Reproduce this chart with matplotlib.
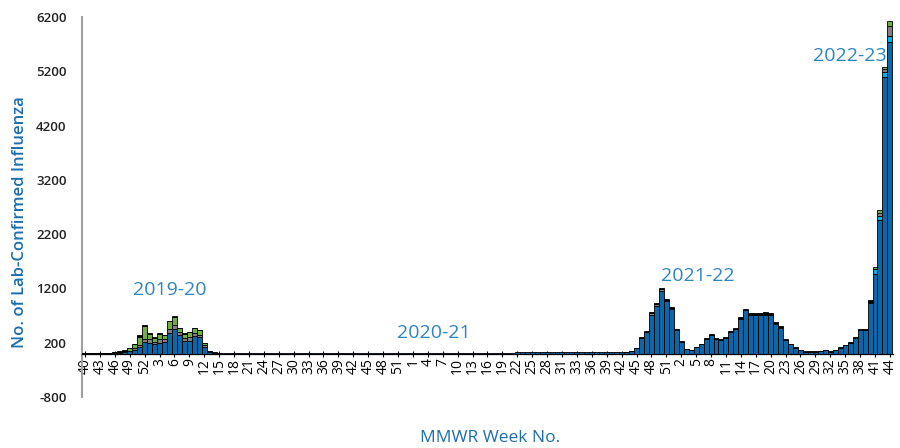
import numpy as np
import matplotlib
matplotlib.use('Agg')
import matplotlib.pyplot as plt

plt.rcParams['font.family'] = ['Open Sans', 'DejaVu Sans']
plt.rcParams['axes.unicode_minus'] = False

# ---- data: 163 weekly bars, 2019 wk40 ... 2022 wk44 ----
tick_labels = ['40', '43', '46', '49', '52', '3', '6', '9', '12', '15', '18', '21', '24', '27', '30',
               '33', '36', '39', '42', '45', '48', '51',
               '1', '4', '7', '10', '13', '16', '19', '22', '25', '28', '31', '33', '36', '39', '42',
               '45', '48', '51',
               '2', '5', '8', '11', '14', '17', '20', '23', '26', '29', '32', '35', '38', '41', '44']

season_labels = ['2019-20', '2020-21', '2021-22', '2022-23']

dark_blue = (
    # 2019 wk40-52
    [5, 5, 6, 7, 8, 10, 12, 15, 25, 40, 75, 120, 215] +
    # 2020 wk1-53
    [200, 170, 200, 210, 380, 450, 340, 230, 230, 320, 300, 130, 30, 12,
     10, 6, 8, 5, 4, 5, 3, 4, 3, 5, 3, 4, 3, 5, 4, 3, 4, 5, 3, 6,
     4, 5, 8, 6, 5, 10, 12, 10, 12, 14, 12, 10, 12, 14, 12, 10, 12, 14, 12] +
    # 2021
    [14, 12, 16, 14, 12, 18, 15, 14, 12, 16, 18, 14, 12, 15, 20, 16, 14, 18, 16, 20, 18, 22,
     30, 28, 32, 35, 30, 28, 34, 36, 30, 32, 35, 38, 30, 28, 32, 34, 30, 28, 30, 32, 33,
     33, 50, 95, 285, 395, 720, 880, 1150, 965, 815] +
    # 2022 wk1-44
    [435, 212, 78, 66, 114, 172, 272, 348, 272, 254, 290, 390, 450, 640, 795, 720, 720, 720, 710, 705,
     545, 472, 255, 172, 108, 67, 38, 38, 38, 50, 62, 38, 68, 108, 155, 202, 285, 430, 430, 925,
     1470, 2460, 5095, 5750]
)

light_blue = (
    [0, 0, 0, 0, 0, 0, 0, 0, 0, 0, 0, 0, 0] +
    [0, 0, 0, 0, 0, 0, 0, 0, 0, 0, 0, 0, 0, 0, 0, 0, 0, 0, 0, 0, 0, 0, 0, 0, 0, 0, 0,
     0, 0, 0, 0, 0, 0, 0, 0, 0, 0, 0, 0, 0, 0, 0, 0, 0, 0, 0, 0, 0, 0, 0, 0, 0, 0] +
    [0, 0, 0, 0, 0, 0, 0, 0, 0, 0, 0, 0, 0, 0, 0, 0, 0, 0, 0, 0, 0, 0, 0, 0, 0, 0, 0,
     0, 0, 0, 0, 0, 0, 0, 0, 0, 0, 0, 0, 0, 0, 0, 0, 0, 0, 0, 0, 0, 0, 0, 0, 0, 0] +
    [0, 0, 0, 0, 0, 0, 0, 0, 0, 0, 0, 0, 0, 0, 0, 0, 0, 0, 0, 0,
     0, 0, 0, 0, 0, 0, 0, 0, 0, 0, 0, 0, 0, 0, 0, 0, 0, 0, 0, 0,
     80, 80, 98, 110]
)

gray = (
    [0, 0, 0, 0, 0, 0, 3, 5, 10, 15, 25, 40, 60] +
    [60, 50, 60, 50, 70, 80, 50, 60, 80, 60, 50, 20, 5, 3,
     0, 0, 0, 0, 0, 0, 0, 0, 0, 0, 0, 0, 0, 0, 0, 0, 0, 0, 0, 0,
     0, 0, 0, 0, 0, 0, 0, 0, 0, 0, 0, 0, 0, 0, 0, 0, 0, 0, 0] +
    [0, 0, 0, 0, 0, 0, 0, 0, 0, 0, 0, 0, 0, 0, 0, 0, 0, 0, 0, 0, 0, 0, 0, 0,
     0, 0, 0, 0, 0, 0, 0, 0, 0, 0, 0, 0, 0, 0, 0, 0, 0, 0, 0, 0, 0, 0, 0, 0,
     21, 27, 33, 26, 0] +
    [0, 0, 0, 0, 0, 0, 0, 0, 0, 0, 0, 0, 0, 0, 0, 0, 0, 0, 0, 0,
     0, 0, 0, 0, 0, 0, 0, 0, 0, 0, 0, 0, 0, 0, 0, 0, 0, 0, 0, 0,
     10, 55, 55, 185]
)

green = (
    [3, 3, 4, 4, 5, 7, 7, 15, 20, 45, 70, 150, 240] +
    [110, 70, 95, 80, 150, 150, 75, 80, 80, 85, 80, 40, 15, 5,
     0, 0, 0, 0, 0, 0, 0, 0, 0, 0, 0, 0, 0, 0, 0, 0, 0, 0, 0, 0,
     0, 0, 0, 0, 0, 0, 0, 0, 0, 0, 0, 0, 0, 0, 0, 0, 0, 0, 0] +
    [0, 0, 0, 0, 0, 0, 0, 0, 0, 0, 0, 0, 0, 0, 0, 0, 0, 0, 0, 0, 0, 0, 0, 0, 0, 0,
     0, 0, 0, 0, 0, 0, 0, 0, 0, 0, 0, 0, 0, 0, 0, 0, 0, 0, 0, 0, 0, 0, 0, 0, 0, 0,
     25] +
    [0, 0, 0, 0, 0, 0, 0, 0, 0, 0, 0, 0, 0, 0, 0, 0, 0, 0,
     15, 15, 15, 15,
     0, 0, 0, 0, 0, 0, 0, 0, 0, 0, 0, 0, 0, 0, 0,
     8, 8, 20, 29, 42, 42, 75]
)

black = (
    [2, 2, 2, 3, 3, 3, 3, 5, 5, 5, 10, 40, 20] +
    [10, 10, 25, 10, 8, 7, 8, 10, 10, 8, 10, 6, 5, 5,
     0, 0, 0, 0, 0, 0, 0, 0, 0, 0, 0, 0, 0, 0, 0, 0, 0, 0, 0, 0,
     0, 0, 0, 0, 0, 0, 0, 0, 0, 0, 0, 0, 0, 0, 0, 0, 0, 0, 0] +
    [0, 0, 0, 0, 0, 0, 0, 0, 0, 0, 0, 0, 0, 0, 0, 0, 0, 0, 0, 0, 0, 0,
     0, 0, 0, 0, 0, 0, 0, 0, 0, 0, 0, 0, 0, 0, 0, 0, 0, 0, 0, 0, 0,
     2, 3, 5, 15, 20, 25, 25, 25, 20, 18] +
    [18, 13, 7, 6, 8, 10, 15, 18, 15, 14, 16, 19, 21, 27, 32, 28, 28, 28, 35, 20,
     15, 14, 13, 10, 7, 5, 3, 3, 3, 3, 4, 3, 4, 7, 9, 11, 14, 17, 17, 35,
     0, 0, 0, 0]
)

series = [dark_blue, light_blue, gray, green, black]
colors = ['#0D66A8', '#00B0F0', '#808080', '#70AD47', '#000000']
n = len(dark_blue)
for s in series:
    assert len(s) == n, (len(s), n)

# ---- figure ----
fig = plt.figure(figsize=(9, 4.48), dpi=100)
ax = fig.add_axes([0.0911, 0.1138, 0.901, 0.848])

x = np.arange(n)
bottom = np.zeros(n)
for s, c in zip(series, colors):
    v = np.array(s, dtype=float)
    mask = v > 0
    ax.bar(x[mask], v[mask], width=1.0, bottom=bottom[mask], color=c,
           edgecolor='black', linewidth=0.6, zorder=3)
    bottom += v

ax.set_xlim(-0.6, n - 0.4)
ax.set_ylim(-800, 6200)
ax.set_yticks(np.arange(-800, 6201, 1000))
ax.tick_params(axis='y', length=0, pad=11, labelsize=9.5, labelcolor='#222222')
for t in ax.get_yticklabels():
    t.set_fontweight('semibold')

ax.set_xticks(x[::3])
ax.set_xticklabels(tick_labels, fontsize=7, fontweight='bold')
ax.tick_params(axis='x', direction='inout', length=4, width=0.8, pad=1, labelrotation=90)

for side in ['top', 'right']:
    ax.spines[side].set_visible(False)
ax.spines['left'].set_color('#A0A0A0')
ax.spines['left'].set_linewidth(1.5)
ax.spines['bottom'].set_position(('data', 0))
ax.spines['bottom'].set_color('black')
ax.spines['bottom'].set_linewidth(0.9)
ax.spines['bottom'].set_zorder(4)

label_color = '#1C6EAD'
ax.set_ylabel('No. of Lab-Confirmed Influenza', color=label_color, fontsize=12,
              fontweight='semibold')
ax.yaxis.set_label_coords(-0.066, 0.46)
ax.set_xlabel('MMWR Week No.', color=label_color, fontsize=12.5)
ax.xaxis.set_label_coords(0.503, -0.087)

season_color = '#2E86C1'
season_pos = [(17.1, 1180), (70.2, 385), (123.4, 1435), (154.0, 5490)]
for lab, (sx, sy) in zip(season_labels, season_pos):
    ax.text(sx, sy, lab, color=season_color, fontsize=14, ha='center', va='center', zorder=5)

fig.savefig('out.png', dpi=100)
